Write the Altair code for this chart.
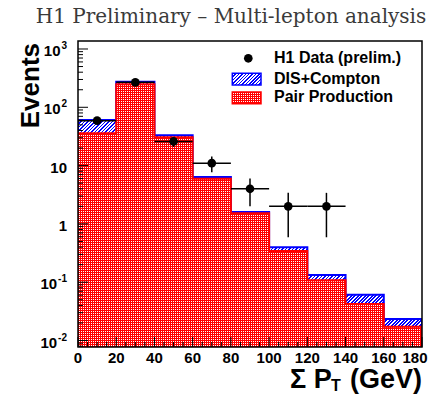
import math
import altair as alt
import pandas as pd

# ---------------- data ----------------
bin_edges = [0, 20, 40, 60, 80, 100, 120, 140, 160, 180]
total_mc = [60.5, 275, 33.1, 6.37, 1.60, 0.398, 0.133, 0.061, 0.0234]   # DIS+Compton stacked on Pair
pair_prod = [35.8, 248, 30.6, 5.96, 1.52, 0.343, 0.108, 0.0423, 0.0173]
data_x = [10, 30, 50, 70, 90, 110, 130]
data_y = [59, 268, 26, 11, 4, 2, 2]
data_err = [7.7, 16.4, 5.1, 3.3, 2.0, 1.41, 1.41]
x_tick_labels = [0, 20, 40, 60, 80, 100, 120, 140, 160, 180]
y_major = [0.01, 0.1, 1, 10, 100, 1000]
y_base = ["10", "10", "1", "10", "10", "10"]
y_exp = ["-2", "-1", "", "", "2", "3"]
legend_labels = ["H1 Data (prelim.)", "DIS+Compton", "Pair Production"]
title_text = "H1 Preliminary \u2013 Multi-lepton analysis"

# ---------------- layout / style ----------------
W, H = 344, 306
YMIN, YMAX = 0.00774, 1371
FONT = "Liberation Sans"
CLEAR = "rgba(255,0,0,0)"


def ypix(v):
    return H * (math.log10(YMAX) - math.log10(v)) / (math.log10(YMAX) - math.log10(YMIN))


def stripes(n, c1, c2, frac=0.5):
    stops = []
    for i in range(n):
        a, m, b = i / n, (i + frac) / n, (i + 1) / n
        stops += [{"offset": round(a, 6), "color": c1}, {"offset": round(m, 6), "color": c1},
                  {"offset": round(m, 6), "color": c2}, {"offset": round(b, 6), "color": c2}]
    return stops


def diag_grad(w, h, c1, c2, period=3.5, frac=0.45):
    r = h / w
    a = (1 + r) / (1 + r * r)
    b = a * r
    n = max(1, round((a * a + b * b) * w / (a * period)))
    return {"gradient": "linear", "x1": 0, "y1": 0, "x2": a, "y2": b, "stops": stripes(n, c1, c2, frac)}


def check_grad(size, c, horizontal, period=2, frac=0.5):
    # stripes with an exact integer pixel period (avoids moire)
    n = math.ceil(size / period)
    ext = n * period / size
    g = {"gradient": "linear", "x1": 0, "y1": 0, "x2": 0, "y2": 0, "stops": stripes(n, c, CLEAR, frac)}
    if horizontal:
        g["y2"] = ext
    else:
        g["x2"] = ext
    return g


xscale = alt.Scale(domain=[0, 180], nice=False, zero=False)
yscale = alt.Scale(type="log", domain=[YMIN, YMAX], nice=False)

# ---------------- tables ----------------
area_df = pd.DataFrame({
    "x": bin_edges,
    "total": total_mc + [total_mc[-1]],
    "pair": pair_prod + [pair_prod[-1]],
    "bottom": [YMIN] * len(bin_edges),
})


def step_df(vals):
    xs = [bin_edges[0]] + bin_edges[:-1] + [bin_edges[-1], bin_edges[-1]]
    ys = [YMIN] + vals + [vals[-1], YMIN]
    return pd.DataFrame({"x": xs, "y": ys, "i": list(range(len(xs)))})


pts_df = pd.DataFrame({"x": data_x, "y": data_y})
pts_df["lo"] = [y - e for y, e in zip(data_y, data_err)]
pts_df["hi"] = [y + e for y, e in zip(data_y, data_err)]
pts_df["xl"] = [x - 10 for x in data_x]
pts_df["xh"] = [x + 10 for x in data_x]

x_minor = [v for v in range(0, 181, 5) if v % 20 != 0]
y_minor = []
for e in range(-3, 4):
    for k in range(2, 10):
        v = k * 10 ** e
        if YMIN < v < YMAX:
            y_minor.append(v)

ylab_df = pd.DataFrame({"v": y_major, "base": y_base, "exp": y_exp})
ylab_df["kind"] = ["e2" if len(s) == 2 else ("e1" if len(s) == 1 else "plain") for s in y_exp]

X = lambda f: alt.X(f, type="quantitative", scale=xscale, axis=None)
Y = lambda f: alt.Y(f, type="quantitative", scale=yscale, axis=None)

one = alt.Data(values=[{"a": 1}])

layers = []

# blue hatched DIS+Compton (drawn as full stack, covered by pair production)
hb = H - ypix(max(total_mc))
layers.append(alt.Chart(area_df).mark_area(interpolate="step-after", clip=True,
                                           fill=diag_grad(W, hb, "#0000ff", "#ffffff")).encode(
    x=X("x"), y=Y("total"), y2="bottom"))
layers.append(alt.Chart(step_df(total_mc)).mark_line(interpolate="step-after", clip=True,
                                                     color="#0000ff", strokeWidth=2).encode(
    x=X("x"), y=Y("y"), order="i:Q"))

# red checkered pair production
hp = H - ypix(max(pair_prod))
layers.append(alt.Chart(area_df).mark_area(interpolate="step-after", clip=True, fill="#ffffff").encode(
    x=X("x"), y=Y("pair"), y2="bottom"))
layers.append(alt.Chart(area_df).mark_area(interpolate="step-after", clip=True,
                                           fill=check_grad(W, "#ff0000", False)).encode(
    x=X("x"), y=Y("pair"), y2="bottom"))
layers.append(alt.Chart(area_df).mark_area(interpolate="step-after", clip=True,
                                           fill=check_grad(hp, "#ff0000", True)).encode(
    x=X("x"), y=Y("pair"), y2="bottom"))
layers.append(alt.Chart(step_df(pair_prod)).mark_line(interpolate="step-after", clip=True,
                                                      color="#ff0000", strokeWidth=2).encode(
    x=X("x"), y=Y("y"), order="i:Q"))

# data points with error bars
layers.append(alt.Chart(pts_df).mark_rule(color="black", strokeWidth=1.5).encode(
    x=X("xl"), x2="xh", y=Y("y")))
layers.append(alt.Chart(pts_df).mark_rule(color="black", strokeWidth=1.5).encode(
    x=X("x"), y=Y("lo"), y2="hi"))
layers.append(alt.Chart(pts_df).mark_point(filled=True, color="black", opacity=1, size=75).encode(
    x=X("x"), y=Y("y")))

# ticks (inside the frame)
xmaj_df = pd.DataFrame({"v": x_tick_labels})
xmin_df = pd.DataFrame({"v": x_minor})
layers.append(alt.Chart(xmaj_df).mark_rule(color="black", strokeWidth=1).encode(
    x=X("v"), y=alt.value(H), y2=alt.value(H - 10)))
layers.append(alt.Chart(xmin_df).mark_rule(color="black", strokeWidth=1).encode(
    x=X("v"), y=alt.value(H), y2=alt.value(H - 5)))
layers.append(alt.Chart(pd.DataFrame({"v": y_major})).mark_rule(color="black", strokeWidth=1).encode(
    y=Y("v"), x=alt.value(0), x2=alt.value(10)))
layers.append(alt.Chart(pd.DataFrame({"v": y_minor})).mark_rule(color="black", strokeWidth=1).encode(
    y=Y("v"), x=alt.value(0), x2=alt.value(5)))

# frame
layers.append(alt.Chart(one).mark_rect(fillOpacity=0, stroke="black", strokeWidth=1.5).encode(
    x=alt.value(0), x2=alt.value(W), y=alt.value(0), y2=alt.value(H)))

# x tick labels
lab = dict(font=FONT, fontWeight="bold", fontSize=15, color="black", baseline="middle")
layers.append(alt.Chart(xmaj_df).transform_filter("datum.v < 180").mark_text(align="center", **lab).encode(
    x=X("v"), y=alt.value(317), text="v:Q"))
layers.append(alt.Chart(xmaj_df).transform_filter("datum.v >= 180").mark_text(align="center", dx=-7, **lab).encode(
    x=X("v"), y=alt.value(317), text="v:Q"))

# y tick labels (base + exponent)
for kind, off in [("plain", 0), ("e1", 6.5), ("e2", 9.8)]:
    layers.append(alt.Chart(ylab_df).transform_filter(f"datum.kind == '{kind}'").mark_text(
        align="right", dy=2, **lab).encode(y=Y("v"), x=alt.value(-11 - off), text="base:N"))
layers.append(alt.Chart(ylab_df).transform_filter("datum.kind != 'plain'").mark_text(
    align="right", baseline="alphabetic", font=FONT, fontWeight="bold", fontSize=10, color="black").encode(
    y=Y("v"), x=alt.value(-11), text="exp:N"))

# axis titles
layers.append(alt.Chart(one).mark_text(font=FONT, fontWeight="bold", fontSize=26, angle=270,
                                       align="right", baseline="middle", color="black").encode(
    x=alt.value(-47), y=alt.value(2), text=alt.value("Events")))
tt = dict(font=FONT, fontWeight="bold", color="black", baseline="alphabetic")
layers.append(alt.Chart(one).mark_text(fontSize=27, align="left", **tt).encode(
    x=alt.value(212), y=alt.value(347), text=alt.value("\u03a3 P")))
layers.append(alt.Chart(one).mark_text(fontSize=16, align="left", **tt).encode(
    x=alt.value(253), y=alt.value(350), text=alt.value("T")))
layers.append(alt.Chart(one).mark_text(fontSize=27, align="right", **tt).encode(
    x=alt.value(344), y=alt.value(347), text=alt.value("(GeV)")))

# title
layers.append(alt.Chart(one).mark_text(font="DejaVu Serif", fontSize=20, align="center",
                                       baseline="alphabetic", color="#3a3a3a").encode(
    x=alt.value(153), y=alt.value(-18), text=alt.value(title_text)))

# legend
bw, bh = 28.7, 11.7
lx, ly1, ly2 = 154.3, 32.3, 51.0
layers.append(alt.Chart(one).mark_point(filled=True, color="black", opacity=1, size=75).encode(
    x=alt.value(170.3), y=alt.value(17.3)))
layers.append(alt.Chart(one).mark_rect(fill=diag_grad(bw, bh, "#0000ff", "#ffffff"),
                                       stroke="#0000ff", strokeWidth=1.5).encode(
    x=alt.value(lx), x2=alt.value(lx + bw), y=alt.value(ly1), y2=alt.value(ly1 + bh)))
layers.append(alt.Chart(one).mark_rect(fill="#ffffff").encode(
    x=alt.value(lx), x2=alt.value(lx + bw), y=alt.value(ly2), y2=alt.value(ly2 + bh)))
layers.append(alt.Chart(one).mark_rect(fill=check_grad(bw, "#ff0000", False)).encode(
    x=alt.value(lx), x2=alt.value(lx + bw), y=alt.value(ly2), y2=alt.value(ly2 + bh)))
layers.append(alt.Chart(one).mark_rect(fill=check_grad(bh, "#ff0000", True), stroke="#ff0000",
                                       strokeWidth=1.5).encode(
    x=alt.value(lx), x2=alt.value(lx + bw), y=alt.value(ly2), y2=alt.value(ly2 + bh)))
for lbl, yy in zip(legend_labels, [17.3, 38.0, 56.0]):
    layers.append(alt.Chart(one).mark_text(font=FONT, fontWeight="bold", fontSize=16, align="left",
                                           baseline="middle", color="black").encode(
        x=alt.value(196), y=alt.value(yy), text=alt.value(lbl)))

chart = alt.layer(*layers).properties(
    width=W, height=H,
    padding={"left": 70, "top": 33, "right": 6, "bottom": 48},
    autosize=alt.AutoSizeParams(type="none"),
    background="white",
).configure_view(stroke=None)

chart.save("out.html", embed_options={"renderer": "svg", "actions": False})
